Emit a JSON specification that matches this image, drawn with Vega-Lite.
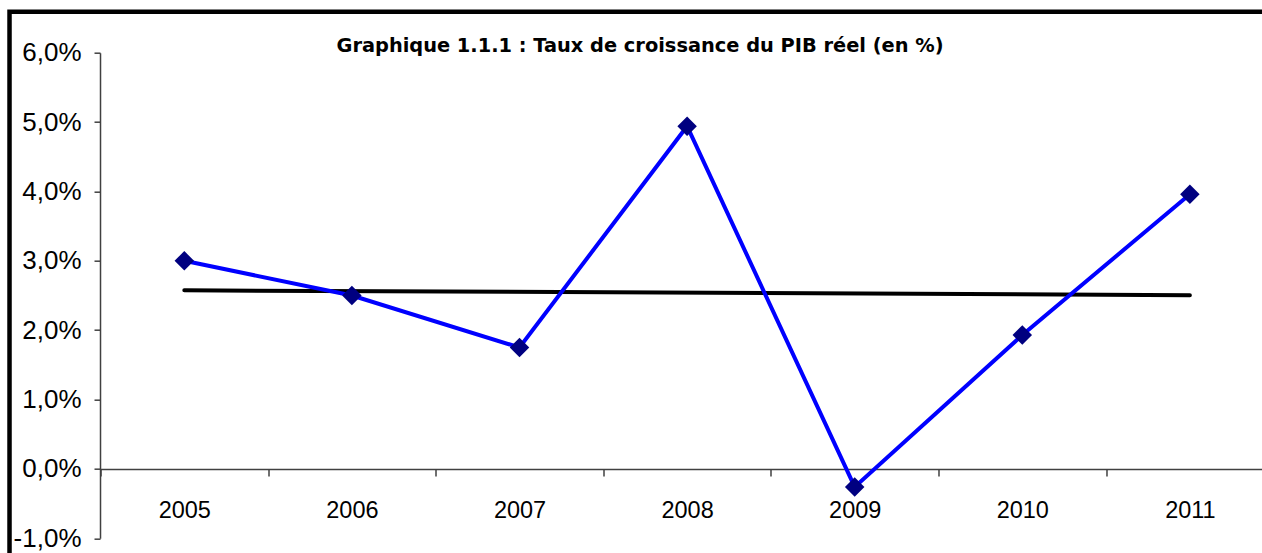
{
  "$schema": "https://vega.github.io/schema/vega-lite/v6.json",
  "autosize": {"type": "none"},
  "padding": {"left": 9.5, "top": 11.7, "right": 0, "bottom": 0},
  "width": 1261,
  "height": 600,
  "background": "white",
  "config": {
    "view": {"stroke": "black", "strokeWidth": 4.5},
    "font": "Liberation Sans"
  },
  "title": {
    "text": "Graphique 1.1.1 :  Taux de croissance du PIB réel (en %)",
    "font": "DejaVu Sans",
    "fontSize": 19.4,
    "fontWeight": "bold",
    "color": "black",
    "anchor": "middle",
    "baseline": "middle",
    "offset": 0,
    "dy": 54
  },
  "datasets": {
    "pib": [
      {"annee": "2005", "taux": 3.0},
      {"annee": "2006", "taux": 2.5},
      {"annee": "2007", "taux": 1.75},
      {"annee": "2008", "taux": 4.94},
      {"annee": "2009", "taux": -0.26},
      {"annee": "2010", "taux": 1.93},
      {"annee": "2011", "taux": 3.96}
    ],
    "tendance": [
      {"annee": "2005", "taux": 2.575},
      {"annee": "2011", "taux": 2.505}
    ]
  },
  "encoding": {
    "x": {
      "field": "annee",
      "type": "ordinal",
      "sort": ["2005", "2006", "2007", "2008", "2009", "2010", "2011"],
      "scale": {
        "domain": ["2005", "2006", "2007", "2008", "2009", "2010", "2011"],
        "range": [91, 1264.2],
        "paddingInner": 0,
        "paddingOuter": 0
      },
      "axis": {
        "title": null,
        "orient": "bottom",
        "offset": -142.8,
        "labelAngle": 0,
        "labelFont": "Liberation Sans",
        "labelFontSize": 23.5,
        "labelColor": "black",
        "labelPadding": 23,
        "labelBaseline": "top",
        "domainColor": "#404040",
        "domainWidth": 1.5,
        "tickColor": "#404040",
        "tickWidth": 1.5,
        "tickSize": 7,
        "tickBand": "extent",
        "grid": false
      }
    },
    "y": {
      "field": "taux",
      "type": "quantitative",
      "scale": {"domain": [-1, 6], "range": [526.6, 41], "nice": false, "zero": false},
      "axis": {
        "title": null,
        "orient": "left",
        "offset": -90.5,
        "values": [-1, 0, 1, 2, 3, 4, 5, 6],
        "labelExpr": "replace(replace(format(datum.value, '.1f'), '.', ','), '−', '-') + '%'",
        "labelFont": "Liberation Sans",
        "labelFontSize": 26,
        "labelColor": "black",
        "labelPadding": 13,
        "domainColor": "#404040",
        "domainWidth": 1.5,
        "tickColor": "#404040",
        "tickWidth": 1.5,
        "tickSize": 6,
        "grid": false
      }
    }
  },
  "layer": [
    {
      "data": {"name": "tendance"},
      "mark": {"type": "line", "color": "black", "strokeWidth": 4, "strokeCap": "round"},
      "encoding": {}
    },
    {
      "data": {"name": "pib"},
      "mark": {"type": "line", "color": "#0000FF", "strokeWidth": 4},
      "encoding": {}
    },
    {
      "data": {"name": "pib"},
      "mark": {"type": "point", "shape": "diamond", "filled": true, "color": "#000080", "size": 380, "opacity": 1},
      "encoding": {}
    }
  ]
}
